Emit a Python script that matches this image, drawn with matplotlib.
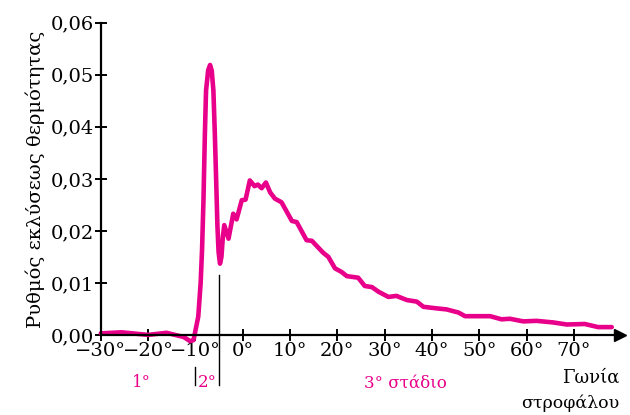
import numpy as np
import matplotlib
matplotlib.use("Agg")
import matplotlib.pyplot as plt

# data
angle = [-30, -29.8, -25.6, -20.0, -16.1, -12.5, -11.1, -10.4, -9.4, -8.9, -8.6, -8.3, -8.0,
         -7.75, -7.3, -6.9, -6.55, -6.2, -5.9, -5.6, -5.35, -5.1, -4.8, -4.5, -4.2,
         -3.9, -3.0, -2.0, -1.3, -0.2, 0.6, 1.5, 2.5, 3.2,
         4.0, 4.9, 5.8, 6.8, 8.2, 10.4, 11.4, 13.5, 14.6, 17.0, 18.1, 19.5, 20.9,
         22.0, 24.4, 25.8, 27.3, 28.7, 30.8, 32.5, 34.7, 36.8, 38.2, 41.0, 43.1,
         45.6, 47.0, 52.3, 54.7, 56.5, 59.3, 62.1, 65.6, 68.5, 72.3, 75.1, 78.0]
rate = [0.0003, 0.0003, 0.0005, 0.0000, 0.0004, -0.0004, -0.0012, -0.0010, 0.0035, 0.0099,
        0.0163, 0.0258, 0.0386, 0.0470, 0.0509, 0.0519, 0.0508, 0.0470, 0.0388,
        0.0293, 0.0210, 0.0159, 0.0137, 0.0150, 0.0188,
        0.0211, 0.0185, 0.0233,
        0.0222, 0.0259, 0.0260, 0.0297, 0.0286, 0.0289, 0.0282, 0.0293, 0.0274,
        0.0262, 0.0255, 0.0219, 0.0217, 0.0182, 0.0181, 0.0158, 0.0150, 0.0128,
        0.0121, 0.0113, 0.0110, 0.0094, 0.0092, 0.0083, 0.0073, 0.0075, 0.0067,
        0.0064, 0.0054, 0.0051, 0.0049, 0.0043, 0.0036, 0.0036, 0.0030, 0.0031,
        0.0026, 0.0027, 0.0024, 0.0020, 0.0021, 0.0015, 0.0015]

xticks = [-30, -20, -10, 0, 10, 20, 30, 40, 50, 60, 70]
xlabels = ["\u221230°", "\u221220°", "\u221210°", "0°", "10°", "20°", "30°", "40°", "50°", "60°", "70°"]
yticks = [0.00, 0.01, 0.02, 0.03, 0.04, 0.05, 0.06]
ylabels = ["0,00", "0,01", "0,02", "0,03", "0,04", "0,05", "0,06"]

pink = "#e8008a"
plt.rcParams["font.family"] = ["DejaVu Serif"]

fig = plt.figure(figsize=(6.3, 4.15), dpi=100)
ax = fig.add_axes([0.160, 0.193, 0.826, 0.752])

ax.plot(angle, rate, color=pink, lw=3.3, solid_capstyle="round",
        solid_joinstyle="round", clip_on=False)

ax.set_xlim(-30, 80)
ax.set_ylim(0, 0.06)
ax.spines["top"].set_visible(False)
ax.spines["right"].set_visible(False)
ax.spines["left"].set_linewidth(1.6)
ax.spines["bottom"].set_linewidth(1.6)
ax.plot(79.7, 0, marker=">", color="black", ms=9, clip_on=False)

ax.set_xticks(xticks)
ax.set_xticklabels(xlabels)
ax.set_yticks(yticks)
ax.set_yticklabels(ylabels)
ax.tick_params(direction="inout", length=8, width=1.4, labelsize=14, pad=1)

ax.set_ylabel("Ρυθμός εκλύσεως θερμότητας", fontsize=14, labelpad=4)

# stage markers
ax.plot([-5, -5], [0.0115, -0.0096], color="black", lw=1.0, clip_on=False)
ax.plot([-10.1, -10.1], [-0.0061, -0.0096], color="black", lw=1.0, clip_on=False)
ax.text(-21.4, -0.0092, "1°", color=pink, fontsize=12, ha="center", va="center")
ax.text(-7.5, -0.0092, "2°", color=pink, fontsize=12, ha="center", va="center")
ax.text(34.5, -0.0092, "3° στάδιο", color=pink, fontsize=12, ha="center", va="center")
ax.text(79.7, -0.0082, "Γωνία", fontsize=13, ha="right", va="center")
ax.text(79.7, -0.0131, "στροφάλου", fontsize=12.5, ha="right", va="center")

fig.savefig("out.png", dpi=100)
